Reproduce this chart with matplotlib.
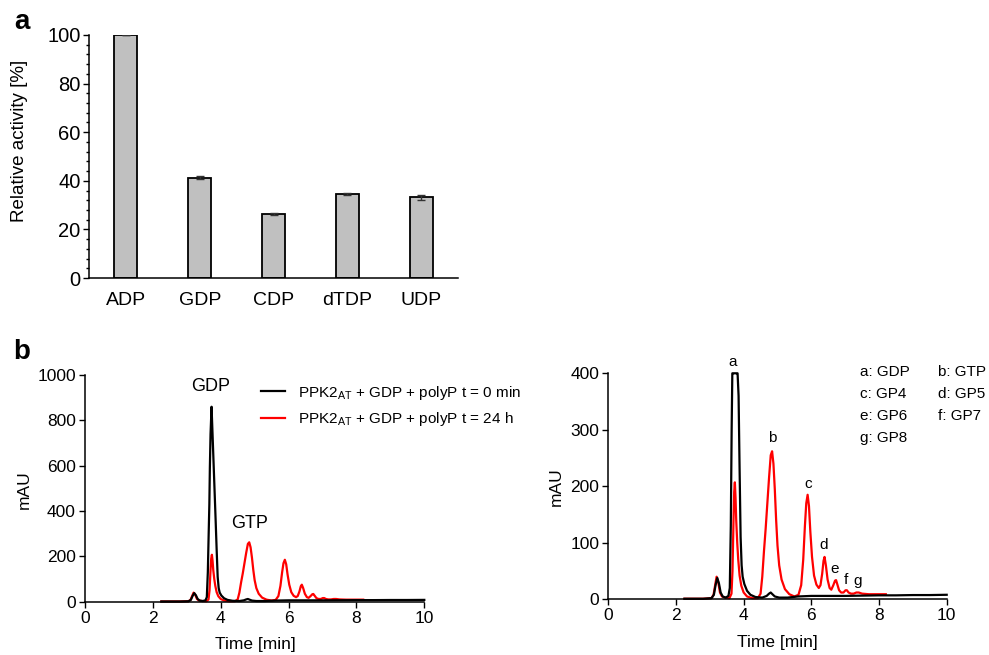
import numpy as np
import matplotlib
matplotlib.use("Agg")
import matplotlib.pyplot as plt
from matplotlib.ticker import MultipleLocator
from matplotlib.lines import Line2D

plt.rcParams['font.family'] = ['Liberation Sans', 'DejaVu Sans']
plt.rcParams['mathtext.fontset'] = 'custom'
plt.rcParams['mathtext.rm'] = 'Liberation Sans'
plt.rcParams['mathtext.it'] = 'Liberation Sans:italic'

# ---------------- data ----------------
substrates = ['ADP', 'GDP', 'CDP', 'dTDP', 'UDP']
activity = [100.0, 41.3, 26.2, 34.5, 33.3]
activity_err = [0.0, 0.5, 0.4, 0.5, 1.0]

time_t0 = [2.25, 2.5, 2.8, 3.05, 3.12, 3.17, 3.22, 3.27, 3.32, 3.38, 3.47, 3.55,
           3.59, 3.62, 3.645, 3.665, 3.68, 3.70, 3.73, 3.76, 3.79, 3.82, 3.85,
           3.88, 3.91, 3.94, 3.97, 4.02, 4.10, 4.20, 4.35, 4.55, 4.68, 4.75,
           4.80, 4.85, 4.92, 5.05, 5.3, 5.6, 6.0, 6.5, 7.0, 7.5, 8.0, 8.5, 9.0, 9.5, 10.0]
mau_t0 = [1, 1, 1, 2, 8, 25, 38, 28, 12, 5, 3, 6,
          20, 130, 300, 430, 590, 740, 860, 735, 610, 485, 360,
          230, 110, 60, 40, 27, 15, 8, 4, 3, 6, 10,
          12, 9, 5, 3, 3, 5, 6, 6, 6, 6.5, 7, 7, 7.5, 7.5, 8]

time_t24 = [2.25, 2.5, 2.8, 3.05, 3.11, 3.16, 3.20, 3.25, 3.30, 3.36, 3.45, 3.58,
            3.64, 3.67, 3.70, 3.72, 3.74, 3.76, 3.78, 3.81, 3.84, 3.88, 3.93, 4.0,
            4.1, 4.25, 4.42, 4.50, 4.55, 4.60, 4.65, 4.70, 4.75, 4.80, 4.84, 4.88,
            4.92, 4.96, 5.00, 5.05, 5.12, 5.22, 5.35, 5.5, 5.62, 5.70, 5.76, 5.81,
            5.85, 5.89, 5.93, 5.97, 6.02, 6.08, 6.15, 6.22, 6.27, 6.32, 6.36, 6.39,
            6.43, 6.48, 6.54, 6.59, 6.65, 6.70, 6.73, 6.77, 6.82, 6.88, 6.95, 7.01,
            7.05, 7.10, 7.17, 7.25, 7.33, 7.40, 7.5, 7.7, 8.0, 8.2]
mau_t24 = [1, 1, 1, 2, 8, 26, 40, 30, 12, 5, 3, 2,
           10, 50, 140, 190, 207, 180, 140, 100, 70, 42, 24, 12,
           5, 2, 2, 10, 40, 85, 125, 170, 215, 255, 262, 240,
           195, 140, 95, 60, 35, 18, 9, 5, 8, 25, 70, 130,
           170, 185, 165, 120, 75, 42, 26, 20, 25, 45, 68, 75,
           60, 35, 20, 17, 25, 33, 34, 26, 16, 12, 12, 16,
           16, 12, 10, 10, 12, 12, 10, 9, 9, 9]

legend_labels = ['PPK2$_{\\mathrm{AT}}$ + GDP + polyP t = 0 min',
                 'PPK2$_{\\mathrm{AT}}$ + GDP + polyP t = 24 h']
peak_keys = ['a: GDP', 'b: GTP', 'c: GP4', 'd: GP5', 'e: GP6', 'f: GP7', 'g: GP8']
peak_letters = ['a', 'b', 'c', 'd', 'e', 'f', 'g']
peak_letter_t = [3.68, 4.83, 5.91, 6.37, 6.70, 7.01, 7.37]
peak_letter_y = [420, 286, 204, 96, 54, 34, 33]

W, H = 989, 655
fig = plt.figure(figsize=(W / 100, H / 100), dpi=100)


def fx(px):
    return px / W


def fy(py):
    return 1 - py / H


def add_axes(l, t, r, b):
    return fig.add_axes([fx(l), fy(b), fx(r) - fx(l), fy(t) - fy(b)])


spine_lw = 1.1

# ---------------- panel a ----------------
axa = add_axes(89, 35, 458, 278)
x = np.arange(len(substrates))
axa.bar(x, activity, width=0.31, color='#c0c0c0', edgecolor='black', linewidth=1.3, zorder=2)
axa.errorbar(x, activity, yerr=activity_err, fmt='none', ecolor='#333333',
             elinewidth=1.0, capsize=3, capthick=1.0, zorder=3)
axa.set_xlim(-0.5, 4.5)
axa.set_ylim(0, 100)
axa.set_xticks(x)
axa.set_xticklabels(substrates, fontsize=14)
axa.set_yticks(np.arange(0, 101, 20))
axa.yaxis.set_minor_locator(MultipleLocator(4))
axa.tick_params(axis='y', which='major', length=4, width=1.0, direction='out', labelsize=14.5, pad=2)
axa.tick_params(axis='y', which='minor', length=2.5, width=1.0, direction='out')
axa.tick_params(axis='x', length=0, pad=10)
for s in ['top', 'right']:
    axa.spines[s].set_visible(False)
for s in ['left', 'bottom']:
    axa.spines[s].set_linewidth(spine_lw)
axa.set_ylabel('Relative activity [%]', fontsize=13.5)
axa.yaxis.set_label_coords(-0.187, 0.564)
axa.yaxis.label.set_verticalalignment('center')

fig.text(fx(14), fy(29), 'a', fontsize=20, fontweight='bold', ha='left', va='baseline')
fig.text(fx(13), fy(359), 'b', fontsize=20, fontweight='bold', ha='left', va='baseline')


def style_b(ax):
    for s in ['top', 'right']:
        ax.spines[s].set_visible(False)
    for s in ['left', 'bottom']:
        ax.spines[s].set_linewidth(spine_lw)
    ax.tick_params(length=4.5, width=1.0, direction='out', labelsize=12.5, pad=2)
    ax.set_xlim(0, 10)
    ax.set_xticks(np.arange(0, 11, 2))


# ---------------- panel b left ----------------
axl = add_axes(85, 375, 424.3, 601.7)
axl.plot(time_t24, mau_t24, color='#ff0000', lw=1.6, clip_on=False)
axl.plot(time_t0, mau_t0, color='black', lw=1.6, clip_on=False)
style_b(axl)
axl.set_ylim(0, 1000)
axl.set_yticks(np.arange(0, 1001, 200))
axl.set_ylabel('mAU', fontsize=12.5)
axl.yaxis.set_label_coords(-0.18, 0.493)
axl.yaxis.label.set_verticalalignment('center')
axl.set_xlabel('Time [min]', fontsize=12.5)
axl.xaxis.set_label_coords(0.501, -0.187)
axl.xaxis.label.set_verticalalignment('center')
axl.text(3.70, 948, 'GDP', fontsize=13, ha='center', va='center')
axl.text(4.84, 346, 'GTP', fontsize=13, ha='center', va='center')

handles = [Line2D([], [], color='black', lw=1.6), Line2D([], [], color='#ff0000', lw=1.6)]
fig.legend(handles, legend_labels, loc='upper left',
           bbox_to_anchor=(fx(261), fy(383.5)), bbox_transform=fig.transFigure,
           frameon=False, fontsize=11, handlelength=1.55, handletextpad=0.85,
           labelspacing=0.55, borderpad=0, borderaxespad=0)

# ---------------- panel b right ----------------
axr = add_axes(608.3, 373.3, 946.7, 599.3)
axr.plot(time_t24, mau_t24, color='#ff0000', lw=1.6, clip_on=False)
axr.plot(time_t0, np.minimum(mau_t0, 400), color='black', lw=1.6, clip_on=False)
style_b(axr)
axr.set_ylim(0, 400)
axr.set_yticks(np.arange(0, 401, 100))
axr.set_ylabel('mAU', fontsize=12.5)
axr.yaxis.set_label_coords(-0.155, 0.497)
axr.yaxis.label.set_verticalalignment('center')
axr.set_xlabel('Time [min]', fontsize=12.5)
axr.xaxis.set_label_coords(0.5, -0.189)
axr.xaxis.label.set_verticalalignment('center')
for lt, tt, yy in zip(peak_letters, peak_letter_t, peak_letter_y):
    axr.text(tt, yy, lt, fontsize=11, ha='center', va='center', clip_on=False)

key_x = [860, 938]
key_y = [372, 394, 416, 438]
for i, k in enumerate(peak_keys):
    fig.text(fx(key_x[i % 2]), fy(key_y[i // 2]), k, fontsize=11, ha='left', va='center')

fig.savefig('out.png', dpi=100)
